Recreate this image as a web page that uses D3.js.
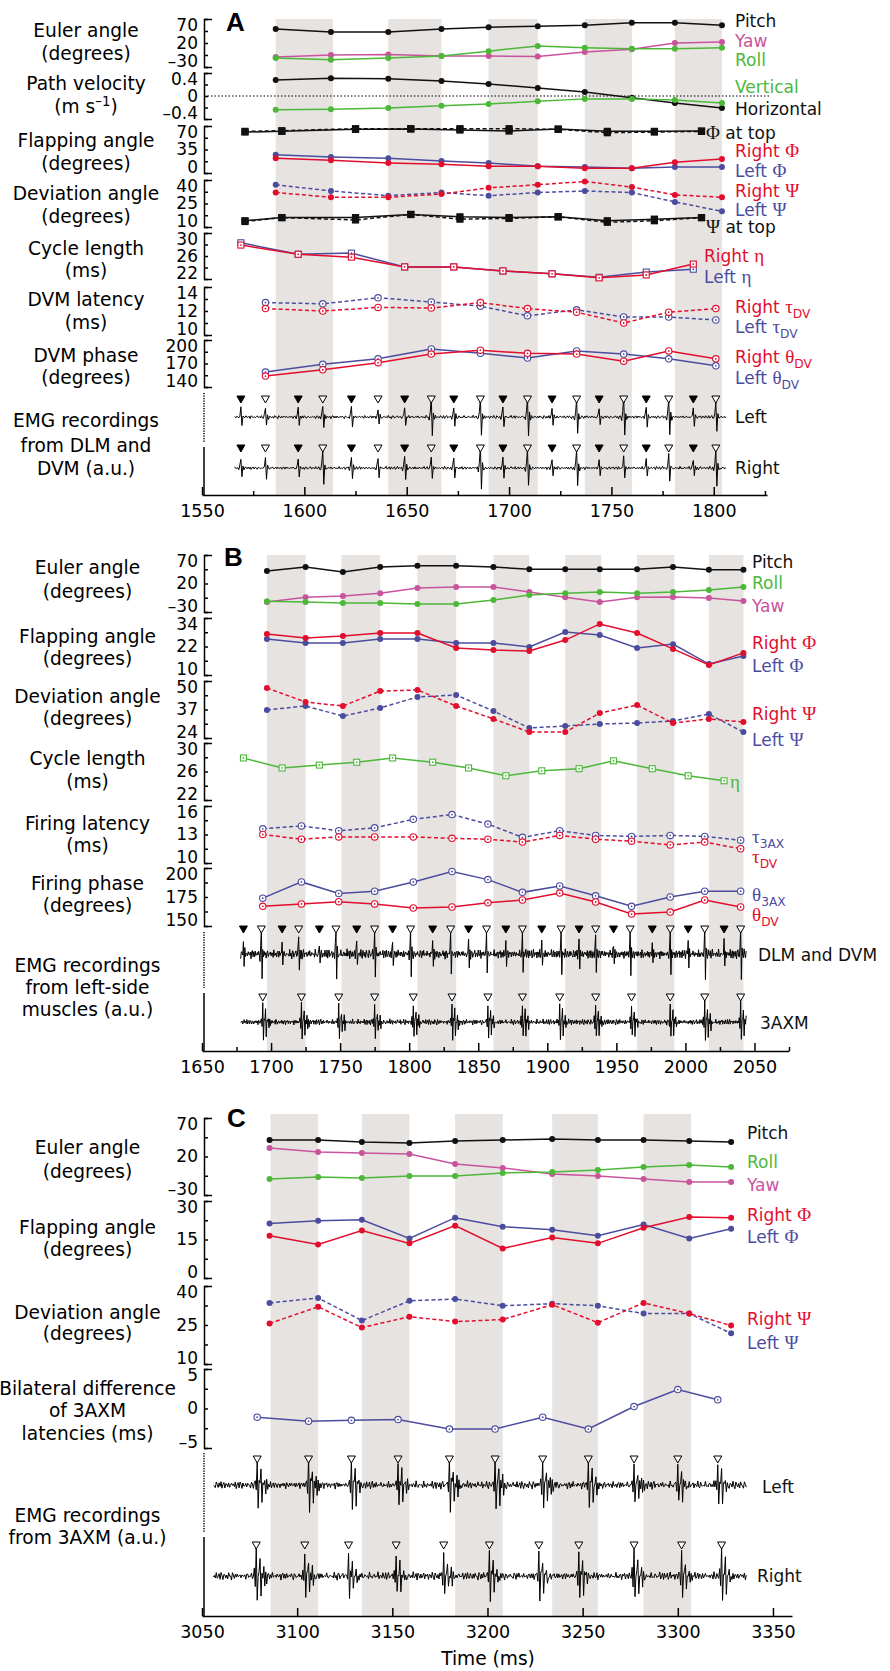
<!DOCTYPE html>
<html>
<head>
<meta charset="utf-8">
<script src="https://cdn.jsdelivr.net/npm/d3@7"></script>
<style>
  body { margin: 0; background: #fff; }
</style>
</head>
<body>
<svg id="fig" width="890" height="1671"></svg>
<script>
// ---------- data (times in ms) ----------

// panel A
var bandsA = [[1586,1614],[1641,1667],[1690,1714],[1737,1760],[1781,1804]];
var tA = [1586,1613,1641,1667,1690,1714,1737,1760,1781,1804];
var pitchA = [49,43,43,49,53,55,57,62,62,57];
var yawA = [-9,-5,-4,-7,-7,-8,1,7,20,22];
var rollA = [-11,-15,-11,-7,3,14,10,8,8,10];
var horizA = [0.28,0.31,0.30,0.26,0.21,0.14,0.07,-0.03,-0.12,-0.21];
var vertA = [-0.24,-0.23,-0.21,-0.17,-0.14,-0.09,-0.05,-0.05,-0.07,-0.12];
var tTopA = [1571,1589,1625,1652,1676,1700,1724,1748,1771,1794];
var phiTopSolidA = [61,62,65,65.5,64,62.5,65.5,62,62,62.5];
var phiTopDashA = [62,63,66,66,66,66,65,60,61,62];
var rightPhiA = [22,19,15,13,10,10,7,7,16,21];
var leftPhiA = [27,24,22,18,15,10,9,7,9,9];
var rightPsiA = [32,29,29,31,35,37,39,35.5,30.5,29];
var leftPsiA = [37,33,30,32,30,32,33,32,26,20];
var psiTopSolidA = [14,16,16,18,16.5,16,16.5,14,15,16];
var psiTopDashA = [13.5,16,14.5,18,15,15.5,16.5,13,14,16];
var tDlmA = [1569,1597,1623,1649,1673,1697,1721,1744,1767,1790];
var tDvmA = [1581,1609,1636,1662,1686,1709,1733,1756,1778,1801];
var rightEtaA = [27.9,26.3,25.8,24.1,24.1,23.4,22.9,22.2,22.7,24.6];
var leftEtaA = [28.3,26.3,26.5,24.1,24.1,23.4,22.9,22.3,23.2,23.7];
var rightTauA = [12.2,12.0,12.3,12.25,12.7,12.2,11.9,11.0,11.9,12.2];
var leftTauA = [12.7,12.6,13.1,12.75,12.4,11.6,12.1,11.5,11.5,11.25];
var rightThetaA = [154,162,171,182,187,183,182,173,186,176];
var leftThetaA = [159,169,176,188.5,183,177,186,182,176,167];
var ampDlmLeftA = [0.45,0.5,0.55,0.5,0.45,0.5,0.4,0.45,0.5,0.45];
var ampDvmLeftA = [0.5,0.55,0.35,0.95,1.0,1.0,0.9,1.0,0.9,0.7];
var ampDlmRightA = [0.45,0.5,0.5,0.55,0.5,0.5,0.45,0.4,0.45,0.45];
var ampDvmRightA = [0.5,0.9,0.5,0.6,1.05,0.95,0.95,0.6,0.7,0.9];

// panel B
var bandsB = [[1697,1725],[1751,1779],[1806,1834],[1861,1887],[1913,1939],[1965,1992],[2017,2042]];
var tB = [1697,1725,1752,1779,1806,1834,1861,1887,1913,1938,1965,1991,2017,2042];
var pitchB = [42,49,40,49,51,51,49,45,45,45,45,49,44,44];
var rollB = [-11,-12.5,-14,-14,-16,-16,-9,0,3,5,3,5,8.6,14];
var yawB = [-12.5,-4,-2,3,12,14,14,5,-4,-12.5,-4,-3.5,-5.4,-10.7];
var rightPhiB = [27.3,25.6,26.4,27.7,27.7,21.4,20.5,20.1,24.7,31.5,27.7,21,14.2,19.3];
var leftPhiB = [25.2,23.5,23.5,25.2,25.2,23.5,23.5,21.8,28.1,26.8,21.4,23,14.6,18];
var rightPsiB = [46.8,40.4,38.6,45.4,45.9,38.6,32.7,26.7,26.7,35.4,39,30.8,32.7,31.3];
var leftPsiB = [36.8,38.6,34,37.7,42.7,43.6,36.3,28.6,29.5,30.4,30.8,31.8,34.9,26.7];
var tDlmB = [1680,1708,1735,1762,1788,1817,1843,1870,1896,1923,1948,1976,2002,2028];
var tDvmB = [1693,1720,1747,1775,1801,1830,1856,1882,1910,1935,1960,1989,2014,2040];
var t3axB = [1694,1722,1749,1775,1803,1831,1857,1882,1909,1935,1961,1989,2014,2040];
var etaB = [27.9,26.5,26.9,27.3,27.9,27.3,26.5,25.4,26.1,26.4,27.5,26.4,25.4,24.7];
var tau3axB = [13.6,13.9,13.4,13.7,14.6,15.1,14.1,12.7,13.4,12.9,12.8,12.9,12.8,12.4];
var tauDvB = [13.0,12.5,12.75,12.75,12.75,12.6,12.5,12.2,12.9,12.5,12.3,11.9,12.2,11.5];
var theta3axB = [174,188,178,180,188,197,190,179,184.5,176,167,175,180,180];
var thetaDvB = [167,169,171,169,165.5,166.4,170,172.4,178.4,170.7,160.3,162,172.4,166.4];
var ampDlmB = [0.45,0.5,0.4,0.55,0.5,0.45,0.5,0.4,0.45,0.5,0.45,0.4,0.5,0.45];
var ampDvmB = [1.0,0.9,0.95,0.85,0.9,1.0,0.9,0.85,0.95,0.9,0.85,0.9,1.05,1.0];
var amp3axB = [0.9,0.85,0.8,0.75,0.8,0.9,0.85,0.8,0.85,0.8,0.75,0.8,1.0,1.0];

// panel C
var bandsC = [[3086,3111],[3134,3159],[3183,3208],[3234,3258],[3282,3307]];
var tC = [3085.5,3111,3134,3159,3183,3208,3234,3258,3282,3306,3328];
var pitchC = [41.4,41.4,38.8,37.5,40.1,41.4,42.7,41.4,41.4,40.1,38.8];
var yawC = [31,25.8,24.5,23.2,10.3,5.1,-2.7,-5.3,-9.2,-13.1,-13.1];
var rollC = [-9.2,-6.6,-7.9,-5.3,-5.3,-1.4,-0.1,2.5,6.4,9,6.4];
var rightPhiC = [16.5,13.1,18.5,13.5,20.4,11.5,15.8,13.5,19.6,23.8,23.5];
var leftPhiC = [21.2,22.3,22.7,15.4,23.5,20,18.8,16.5,20.8,15.4,19.2];
var rightPsiC = [25.6,32,24,28.2,26.3,27.1,32.8,25.9,33.5,29.4,24.8];
var leftPsiC = [33.5,35.4,26.7,34.3,35,32.4,33.2,32.4,29.4,29.4,21.8];
var t3axLeftC = [3079,3106,3128.5,3153,3180,3204,3229,3253,3277,3300,3321];
var t3axRightC = [3078.5,3104,3127,3152,3177,3201,3227,3248,3277,3302,3323];
var bilateralC = [-1.1,-1.6,-1.5,-1.4,-2.6,-2.6,-1.1,-2.6,0.25,2.4,1.1];
var ampLeftC = [0.9,1.0,0.95,0.85,1.0,1.0,0.95,0.9,0.85,0.8,0.9];
var ampRightC = [1.0,0.9,0.85,0.8,0.75,0.95,0.9,0.85,1.0,0.85,1.0];

// hand-typed spike templates and background wiggle for the EMG traces
var spikeShape = [-0.12,0.25,1.0,-0.95,0.2,-0.1];
var burstShape = [0.2,-0.3,1.0,-0.9,0.1,0.15,0.6,-0.7,0.1,-0.05,0.3,-0.35,0.1,-0.15];
var noiseSeq = [0.2,-0.5,0.8,-0.3,0.1,-0.9,0.6,0.4,-0.7,0.3,-0.2,0.9,-0.6,0.0,0.5,-0.8,0.7,-0.1,-0.4,0.6,-0.9,0.2,0.8,-0.5,0.3,-0.3,0.6,-0.7,0.1,0.4,-0.6,0.9,-0.2,-0.8,0.5,0.0,-0.4];
var noiseSeq2 = [0.5,-0.3,-0.7,0.9,0.1,-0.4,0.6,-0.9,0.3,0.7,-0.6,-0.1,0.8,-0.5,0.2,-0.8,0.4,0.6,-0.2,-0.7,0.9,-0.3,0.0];

// ---------- styles ----------
var SANS = '"DejaVu Sans", Arial, sans-serif';
var SERIF = '"Liberation Serif", "DejaVu Serif", serif';
var BLACK = "#111", PINK = "#c9539d", GREEN = "#4cb838", RED = "#e30d2e", BLUE = "#4c4c9f", BAND = "#e6e3e1";

var svg = d3.select("#fig");

function fmt(d) { return d < 0 ? "\u2013" + Math.abs(d) : String(d); }

function styleAxis(a, fs) {
    a.attr("font-family", SANS).attr("font-size", fs || 17.5);
    a.selectAll("path,line").attr("stroke", "#000").attr("stroke-width", 1.5);
    a.selectAll("text").attr("fill", "#000");
}

function makePanel(cfg) {
    var g = svg.append("g");
    var x = d3.scaleLinear().domain(cfg.xDomain).range([202, cfg.xEnd]);
    g.selectAll(".band").data(cfg.bands).enter().append("rect")
        .attr("x", function(d) { return x(d[0]); })
        .attr("width", function(d) { return x(d[1]) - x(d[0]); })
        .attr("y", cfg.bandTop)
        .attr("height", cfg.axisY - cfg.bandTop)
        .attr("fill", BAND);
    var ax = g.append("g").attr("transform", "translate(0," + cfg.axisY + ")")
        .call(d3.axisBottom(x).tickValues(cfg.major).tickFormat(d3.format("d"))
            .tickSizeInner(-8).tickSizeOuter(0).tickPadding(10));
    styleAxis(ax);
    if (cfg.minor) {
        var mx = g.append("g").attr("transform", "translate(0," + cfg.axisY + ")")
            .call(d3.axisBottom(x).tickValues(cfg.minor).tickSize(-4).tickFormat(""));
        mx.select(".domain").remove();
        styleAxis(mx);
    }
    // EMG scale bars on the left
    g.append("line").attr("x1", 204).attr("x2", 204).attr("y1", cfg.emg[0]).attr("y2", cfg.emg[1])
        .attr("stroke", "#000").attr("stroke-width", 1.5).attr("stroke-dasharray", "1.2,1.3");
    g.append("line").attr("x1", 204).attr("x2", 204).attr("y1", cfg.emg[2]).attr("y2", cfg.axisY)
        .attr("stroke", "#000").attr("stroke-width", 1.5);
    return { g: g, x: x };
}

function yRow(P, top, bot, dom, labels) {
    var y = d3.scaleLinear().domain(dom).range([bot, top]);
    var step = (dom[1] - dom[0]) / 4;
    var ticks = [0, 1, 2, 3, 4].map(function(i) { return +(dom[0] + i * step).toFixed(4); });
    var a = P.g.append("g").attr("transform", "translate(204,0)")
        .call(d3.axisLeft(y).tickValues(ticks).tickSizeInner(-4).tickSizeOuter(-8).tickPadding(6)
            .tickFormat(function(d) { return labels.indexOf(d) >= 0 ? fmt(d) : ""; }));
    styleAxis(a, 17);
    // end labels sit a little inside the bracket, as in the figure
    a.selectAll(".tick text").attr("dy", function(d) {
        if (d === dom[1]) return "0.68em";
        if (d === dom[0]) return "-0.02em";
        return "0.32em";
    });
    return y;
}

function series(P, y, ts, vs, color, o) {
    o = o || {};
    var x = P.x;
    var pts = ts.map(function(t, i) { return [t, vs[i]]; });
    P.g.append("path").datum(pts)
        .attr("fill", "none").attr("stroke", color).attr("stroke-width", 1.5)
        .attr("stroke-dasharray", o.dash ? "4,2.6" : null)
        .attr("d", d3.line().x(function(d) { return x(d[0]); }).y(function(d) { return y(d[1]); }));
    var m = P.g.append("g").selectAll("g").data(pts).enter().append("g")
        .attr("transform", function(d) { return "translate(" + x(d[0]) + "," + y(d[1]) + ")"; });
    if (o.marker === "dot") {
        m.append("circle").attr("r", 3).attr("fill", color);
    } else if (o.marker === "ring") {
        m.append("circle").attr("r", 3.2).attr("fill", "#fff").attr("stroke", color).attr("stroke-width", 1.1);
        m.append("circle").attr("r", 0.9).attr("fill", color);
    } else if (o.marker === "sq") {
        m.append("rect").attr("x", -3).attr("y", -3).attr("width", 6).attr("height", 6)
            .attr("fill", "#fff").attr("stroke", color).attr("stroke-width", 1.1);
        m.append("circle").attr("r", 0.9).attr("fill", color);
    } else if (o.marker === "bsq") {
        m.append("rect").attr("x", -3.6).attr("y", -3.6).attr("width", 7.2).attr("height", 7.2).attr("fill", BLACK);
    }
}

function buildTrace(t0, t1, events, shape, noiseAmp, off) {
    var dt = 0.5, out = [], peak = 2;
    for (var i = 0; t0 + i * dt <= t1; i++) {
        var t = t0 + i * dt;
        var v = noiseAmp * (0.7 * noiseSeq[(i + off) % noiseSeq.length] + 0.3 * noiseSeq2[(i + 2 * off) % noiseSeq2.length]);
        events.forEach(function(e) {
            var k = Math.round((t - e.t) / dt) + peak;
            if (k >= 0 && k < shape.length) v += shape[k] * e.a;
        });
        out.push([t, v]);
    }
    return out;
}

function trace(P, base, half, data) {
    var y = d3.scaleLinear().domain([-1, 1]).range([base + half, base - half]);
    P.g.append("path").datum(data)
        .attr("fill", "none").attr("stroke", "#000").attr("stroke-width", 1)
        .attr("stroke-linejoin", "round")
        .attr("d", d3.line().x(function(d) { return P.x(d[0]); }).y(function(d) { return y(d[1]); }));
}

function triangles(P, yTop, ts, filled) {
    P.g.append("g").selectAll("path").data(ts).enter().append("path")
        .attr("transform", function(d) { return "translate(" + P.x(d) + "," + yTop + ")"; })
        .attr("d", "M-4,0L4,0L0,7Z")
        .attr("fill", filled ? "#000" : "#fff").attr("stroke", "#000").attr("stroke-width", 1);
}

function events(ts, amps) { return ts.map(function(t, i) { return { t: t, a: amps[i] }; }); }

function richText(g, x, y, color, parts, fs, anchor) {
    var t = g.append("text").attr("x", x).attr("y", y).attr("dy", "0.35em")
        .attr("fill", color).attr("font-size", fs).attr("font-family", SANS)
        .attr("text-anchor", anchor || "start");
    var shift = 0;
    parts.forEach(function(p) {
        var s = t.append("tspan");
        if (typeof p === "string") {
            s.text(p);
            if (shift) { s.attr("dy", -shift); shift = 0; }
        } else if (p.g) {
            s.attr("font-family", SERIF).attr("font-size", fs * 1.12).text(p.g);
            if (shift) { s.attr("dy", -shift); shift = 0; }
        } else if (p.sub) {
            s.attr("font-size", fs * 0.72).attr("dy", 5).text(p.sub); shift = 5;
        } else if (p.sup) {
            s.attr("font-size", fs * 0.72).attr("dy", -7).text(p.sup); shift = -7;
        }
    });
    return t;
}

function leftLabel(g, cx, lines) {
    lines.forEach(function(l) { richText(g, cx, l[0], "#000", l[1], 18.6, "middle"); });
}

function rightLabels(g, list) {
    list.forEach(function(l) { richText(g, l[0], l[1], l[2], l[3], 17); });
}

function panelLetter(g, x, y, s) {
    g.append("text").attr("x", x).attr("y", y).attr("font-family", '"Liberation Sans", Arial, sans-serif')
        .attr("font-weight", "bold").attr("font-size", 26).text(s);
}

// =================== PANEL A ===================
var A = makePanel({ xDomain: [1550, 1826], xEnd: 767, axisY: 495, bandTop: 19, bands: bandsA,
    major: [1550,1600,1650,1700,1750,1800], minor: [1575,1625,1675,1725,1775,1825], emg: [393,443,447] });

var yEulerA = yRow(A, 19, 67, [-30, 70], [70, 20, -30]);
var yVelA = yRow(A, 73, 119, [-0.4, 0.4], [0.4, 0, -0.4]);
var yFlapA = yRow(A, 126, 173, [0, 70], [70, 35, 0]);
var yDevA = yRow(A, 180, 227, [10, 40], [40, 25, 10]);
var yCycA = yRow(A, 233, 279, [22, 30], [30, 26, 22]);
var yLatA = yRow(A, 287, 335, [10, 14], [14, 12, 10]);
var yPhA = yRow(A, 340, 387, [140, 200], [200, 170, 140]);

A.g.append("line").attr("x1", 204).attr("x2", 770).attr("y1", yVelA(0)).attr("y2", yVelA(0))
    .attr("stroke", "#000").attr("stroke-width", 1.2).attr("stroke-dasharray", "1.5,2");

series(A, yEulerA, tA, pitchA, BLACK, { marker: "dot" });
series(A, yEulerA, tA, yawA, PINK, { marker: "dot" });
series(A, yEulerA, tA, rollA, GREEN, { marker: "dot" });
series(A, yVelA, tA, horizA, BLACK, { marker: "dot" });
series(A, yVelA, tA, vertA, GREEN, { marker: "dot" });
series(A, yFlapA, tTopA, phiTopDashA, BLACK, { marker: "bsq", dash: true });
series(A, yFlapA, tTopA, phiTopSolidA, BLACK, { marker: "bsq" });
series(A, yFlapA, tA, leftPhiA, BLUE, { marker: "dot" });
series(A, yFlapA, tA, rightPhiA, RED, { marker: "dot" });
series(A, yDevA, tA, leftPsiA, BLUE, { marker: "dot", dash: true });
series(A, yDevA, tA, rightPsiA, RED, { marker: "dot", dash: true });
series(A, yDevA, tTopA, psiTopDashA, BLACK, { marker: "bsq", dash: true });
series(A, yDevA, tTopA, psiTopSolidA, BLACK, { marker: "bsq" });
series(A, yCycA, tDlmA, leftEtaA, BLUE, { marker: "sq" });
series(A, yCycA, tDlmA, rightEtaA, RED, { marker: "sq" });
series(A, yLatA, tDvmA, leftTauA, BLUE, { marker: "ring", dash: true });
series(A, yLatA, tDvmA, rightTauA, RED, { marker: "ring", dash: true });
series(A, yPhA, tDvmA, leftThetaA, BLUE, { marker: "ring" });
series(A, yPhA, tDvmA, rightThetaA, RED, { marker: "ring" });

trace(A, 417, 20, buildTrace(1566, 1806, events(tDlmA, ampDlmLeftA).concat(events(tDvmA, ampDvmLeftA)), spikeShape, 0.1, 0));
trace(A, 468, 20, buildTrace(1566, 1806, events(tDlmA, ampDlmRightA).concat(events(tDvmA, ampDvmRightA)), spikeShape, 0.1, 11));
triangles(A, 396, tDlmA, true); triangles(A, 396, tDvmA, false);
triangles(A, 445, tDlmA, true); triangles(A, 445, tDvmA, false);

panelLetter(A.g, 226, 31, "A");
leftLabel(A.g, 86, [
    [30, ["Euler angle"]], [53, ["(degrees)"]],
    [83, ["Path velocity"]], [106, ["(m s", { sup: "\u20131" }, ")"]],
    [140, ["Flapping angle"]], [163, ["(degrees)"]],
    [193, ["Deviation angle"]], [216, ["(degrees)"]],
    [248, ["Cycle length"]], [270, ["(ms)"]],
    [299, ["DVM latency"]], [322, ["(ms)"]],
    [355, ["DVM phase"]], [377, ["(degrees)"]],
    [420, ["EMG recordings"]], [445, ["from DLM and"]], [468, ["DVM (a.u.)"]]
]);
rightLabels(A.g, [
    [735, 21, BLACK, ["Pitch"]], [735, 41, PINK, ["Yaw"]], [735, 60, GREEN, ["Roll"]],
    [735, 87, GREEN, ["Vertical"]], [735, 109, BLACK, ["Horizontal"]],
    [706, 133, BLACK, [{ g: "\u03A6" }, " at top"]],
    [735, 151, RED, ["Right ", { g: "\u03A6" }]], [735, 171, BLUE, ["Left ", { g: "\u03A6" }]],
    [735, 191, RED, ["Right ", { g: "\u03A8" }]], [735, 210, BLUE, ["Left ", { g: "\u03A8" }]],
    [706, 227, BLACK, [{ g: "\u03A8" }, " at top"]],
    [704, 256, RED, ["Right ", { g: "\u03B7" }]], [704, 277, BLUE, ["Left ", { g: "\u03B7" }]],
    [735, 307, RED, ["Right ", { g: "\u03C4" }, { sub: "DV" }]], [735, 327, BLUE, ["Left ", { g: "\u03C4" }, { sub: "DV" }]],
    [735, 357, RED, ["Right ", { g: "\u03B8" }, { sub: "DV" }]], [735, 378, BLUE, ["Left ", { g: "\u03B8" }, { sub: "DV" }]],
    [735, 417, BLACK, ["Left"]], [735, 468, BLACK, ["Right"]]
]);

// =================== PANEL B ===================
var B = makePanel({ xDomain: [1650, 2075], xEnd: 789, axisY: 1051, bandTop: 555, bands: bandsB,
    major: [1650,1700,1750,1800,1850,1900,1950,2000,2050], minor: [1675,1725,1775,1825,1875,1925,1975,2025,2075], emg: [932,988,993] });

var yEulerB = yRow(B, 555, 612, [-30, 70], [70, 20, -30]);
var yFlapB = yRow(B, 618, 675, [10, 34], [34, 22, 10]);
var yDevB = yRow(B, 681, 738, [24, 50], [50, 37, 24]);
var yCycB = yRow(B, 743, 800, [22, 30], [30, 26, 22]);
var yLatB = yRow(B, 806, 863, [10, 16], [16, 13, 10]);
var yPhB = yRow(B, 868, 926, [150, 200], [200, 175, 150]);

series(B, yEulerB, tB, pitchB, BLACK, { marker: "dot" });
series(B, yEulerB, tB, yawB, PINK, { marker: "dot" });
series(B, yEulerB, tB, rollB, GREEN, { marker: "dot" });
series(B, yFlapB, tB, leftPhiB, BLUE, { marker: "dot" });
series(B, yFlapB, tB, rightPhiB, RED, { marker: "dot" });
series(B, yDevB, tB, leftPsiB, BLUE, { marker: "dot", dash: true });
series(B, yDevB, tB, rightPsiB, RED, { marker: "dot", dash: true });
series(B, yCycB, tDlmB, etaB, GREEN, { marker: "sq" });
series(B, yLatB, t3axB, tau3axB, BLUE, { marker: "ring", dash: true });
series(B, yLatB, t3axB, tauDvB, RED, { marker: "ring", dash: true });
series(B, yPhB, t3axB, theta3axB, BLUE, { marker: "ring" });
series(B, yPhB, t3axB, thetaDvB, RED, { marker: "ring" });

trace(B, 954, 24, buildTrace(1678, 2044, events(tDlmB, ampDlmB).concat(events(tDvmB, ampDvmB)), spikeShape, 0.24, 5));
trace(B, 1022, 22, buildTrace(1678, 2044, events(t3axB, amp3axB), burstShape, 0.16, 17));
triangles(B, 926, tDlmB, true); triangles(B, 926, tDvmB, false);
triangles(B, 994, t3axB, false);

panelLetter(B.g, 224, 566, "B");
leftLabel(B.g, 87.5, [
    [567, ["Euler angle"]], [591, ["(degrees)"]],
    [636, ["Flapping angle"]], [658, ["(degrees)"]],
    [696, ["Deviation angle"]], [718, ["(degrees)"]],
    [758, ["Cycle length"]], [781, ["(ms)"]],
    [823, ["Firing latency"]], [845, ["(ms)"]],
    [883, ["Firing phase"]], [905, ["(degrees)"]],
    [965, ["EMG recordings"]], [987, ["from left-side"]], [1009, ["muscles (a.u.)"]]
]);
rightLabels(B.g, [
    [752, 562, BLACK, ["Pitch"]], [752, 583, GREEN, ["Roll"]], [752, 606, PINK, ["Yaw"]],
    [752, 643, RED, ["Right ", { g: "\u03A6" }]], [752, 666, BLUE, ["Left ", { g: "\u03A6" }]],
    [752, 714, RED, ["Right ", { g: "\u03A8" }]], [752, 740, BLUE, ["Left ", { g: "\u03A8" }]],
    [730, 782, GREEN, [{ g: "\u03B7" }]],
    [752, 837, BLUE, [{ g: "\u03C4" }, { sub: "3AX" }]], [752, 857, RED, [{ g: "\u03C4" }, { sub: "DV" }]],
    [752, 895, BLUE, [{ g: "\u03B8" }, { sub: "3AX" }]], [752, 915, RED, [{ g: "\u03B8" }, { sub: "DV" }]],
    [758, 955, BLACK, ["DLM and DVM"]], [760, 1023, BLACK, ["3AXM"]]
]);

// =================== PANEL C ===================
var Cp = makePanel({ xDomain: [3050, 3360], xEnd: 792, axisY: 1616, bandTop: 1114, bands: bandsC,
    major: [3050,3100,3150,3200,3250,3300,3350], minor: null, emg: [1453,1532,1537] });

var yEulerC = yRow(Cp, 1118, 1195, [-30, 70], [70, 20, -30]);
var yFlapC = yRow(Cp, 1201, 1278, [0, 30], [30, 15, 0]);
var yDevC = yRow(Cp, 1286, 1364, [10, 40], [40, 25, 10]);
var yBilC = yRow(Cp, 1369, 1448, [-5, 5], [5, 0, -5]);

series(Cp, yEulerC, tC, pitchC, BLACK, { marker: "dot" });
series(Cp, yEulerC, tC, yawC, PINK, { marker: "dot" });
series(Cp, yEulerC, tC, rollC, GREEN, { marker: "dot" });
series(Cp, yFlapC, tC, leftPhiC, BLUE, { marker: "dot" });
series(Cp, yFlapC, tC, rightPhiC, RED, { marker: "dot" });
series(Cp, yDevC, tC, leftPsiC, BLUE, { marker: "dot", dash: true });
series(Cp, yDevC, tC, rightPsiC, RED, { marker: "dot", dash: true });
series(Cp, yBilC, t3axLeftC, bilateralC, BLUE, { marker: "ring" });

trace(Cp, 1485, 27, buildTrace(3056, 3336, events(t3axLeftC, ampLeftC), burstShape, 0.18, 3));
trace(Cp, 1576, 27, buildTrace(3056, 3336, events(t3axRightC, ampRightC), burstShape, 0.18, 23));
triangles(Cp, 1456, t3axLeftC, false);
triangles(Cp, 1542, t3axRightC, false);

panelLetter(Cp.g, 227, 1127, "C");
leftLabel(Cp.g, 87.5, [
    [1147, ["Euler angle"]], [1171, ["(degrees)"]],
    [1227, ["Flapping angle"]], [1249, ["(degrees)"]],
    [1312, ["Deviation angle"]], [1333, ["(degrees)"]],
    [1388, ["Bilateral difference"]], [1410, ["of 3AXM"]], [1433, ["latencies (ms)"]],
    [1515, ["EMG recordings"]], [1537, ["from 3AXM (a.u.)"]]
]);
rightLabels(Cp.g, [
    [747, 1133, BLACK, ["Pitch"]], [747, 1162, GREEN, ["Roll"]], [747, 1185, PINK, ["Yaw"]],
    [747, 1215, RED, ["Right ", { g: "\u03A6" }]], [747, 1237, BLUE, ["Left ", { g: "\u03A6" }]],
    [747, 1319, RED, ["Right ", { g: "\u03A8" }]], [747, 1343, BLUE, ["Left ", { g: "\u03A8" }]],
    [762, 1487, BLACK, ["Left"]], [757, 1576, BLACK, ["Right"]]
]);
richText(Cp.g, 488, 1658, "#000", ["Time (ms)"], 18.6, "middle");
</script>
</body>
</html>
